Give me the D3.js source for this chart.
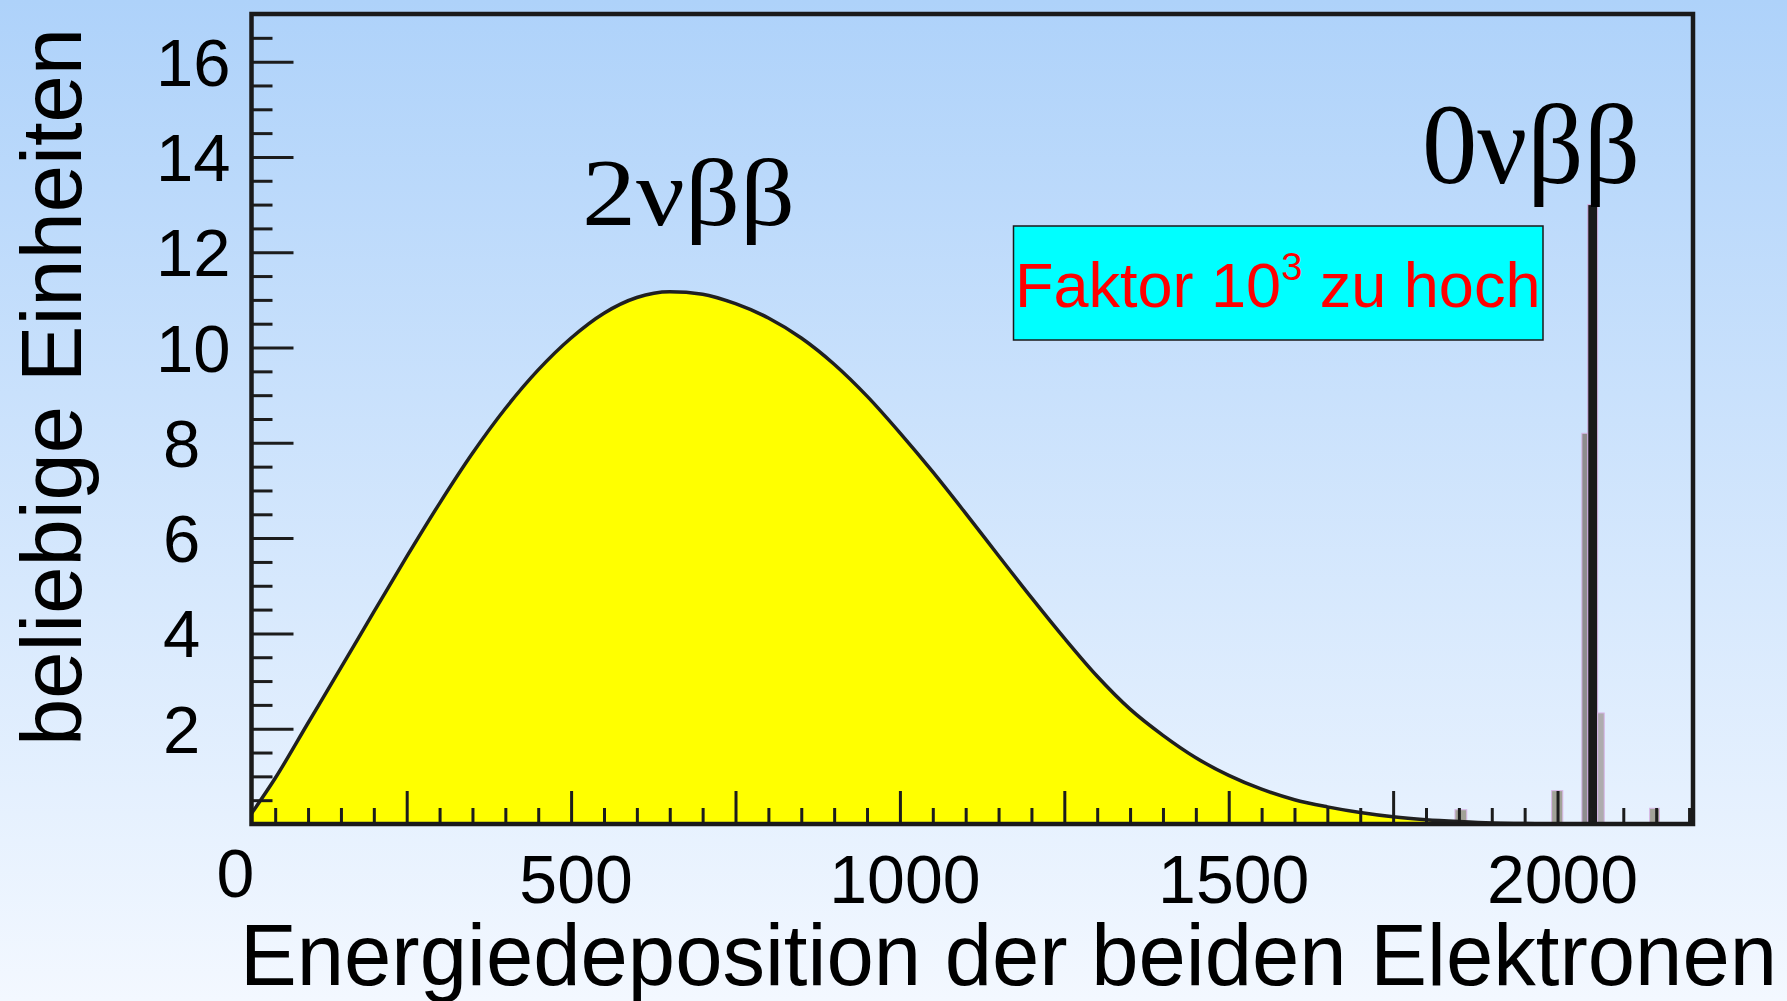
<!DOCTYPE html>
<html><head><meta charset="utf-8">
<script src="https://cdn.jsdelivr.net/npm/d3@7"></script>
<style>html,body{margin:0;padding:0;overflow:hidden;background:#fff;} svg{display:block;}</style>
</head><body>
<svg id="chart" width="1787" height="1001"></svg>
<script>
// ---- data ----
const energy = [14, 50, 100, 150, 200, 250, 300, 350, 400, 450, 500, 550, 600, 650, 700, 750, 800, 850, 900, 950, 1000, 1050, 1100, 1150, 1200, 1250, 1300, 1350, 1400, 1450, 1500, 1550, 1600, 1650, 1700, 1750, 1800, 1850, 1900, 1950, 2000, 2206];
const counts = [0.22, 0.96, 2.12, 3.28, 4.45, 5.61, 6.73, 7.78, 8.72, 9.53, 10.20, 10.72, 11.05, 11.17, 11.12, 10.92, 10.62, 10.20, 9.65, 8.98, 8.21, 7.39, 6.52, 5.63, 4.75, 3.90, 3.10, 2.41, 1.86, 1.39, 1.02, 0.73, 0.51, 0.36, 0.24, 0.15, 0.09, 0.05, 0.02, 0.01, 0.0, 0.0];
// 0vbb peak histogram bins
const peakLo = [2037, 2046, 2061];
const peakHi = [2046, 2061, 2071];
const peakVal = [8.2, 13.0, 2.33];
// small background bins in the tail
const noiseLo = [1844, 1991, 2140];
const noiseHi = [1862, 2008, 2155];
const noiseVal = [0.30, 0.70, 0.33];
// axis ticks / labels
const xTickLabels = [0, 500, 1000, 1500, 2000];
const yTickLabels = [2, 4, 6, 8, 10, 12, 14, 16];
const xMajorTicks = [250, 500, 750, 1000, 1250, 1500, 1750, 2000];
const yMajorTicks = [2, 4, 6, 8, 10, 12, 14, 16];
const xTitle = "Energiedeposition der beiden Elektronen";
const yTitle = "beliebige Einheiten";
const label2nu = "2νββ";
const label0nu = "0νββ";
const boxMain = "Faktor 10", boxSup = "3", boxRest = " zu hoch";

// ---- drawing ----
const svg = d3.select("#chart");
const W = 1787, H = 1001;
const defs = svg.append("defs");
const grad = defs.append("linearGradient").attr("id", "bg").attr("x1", 0).attr("y1", 0).attr("x2", 0).attr("y2", 1);
grad.append("stop").attr("offset", "0").attr("stop-color", "#aed2fa");
grad.append("stop").attr("offset", "1").attr("stop-color", "#f3f8ff");
svg.append("rect").attr("width", W).attr("height", H).attr("fill", "url(#bg)");

const x = d3.scaleLinear().domain([14, 2206]).range([251.5, 1693]);
const y = d3.scaleLinear().domain([0, 17]).range([824, 14]);

defs.append("clipPath").attr("id", "clip").append("rect")
  .attr("x", x.range()[0]).attr("y", y.range()[1])
  .attr("width", x.range()[1] - x.range()[0]).attr("height", y.range()[0] - y.range()[1]);

const pts = energy.map((e, i) => [e, counts[i]]);
const plot = svg.append("g").attr("clip-path", "url(#clip)");

plot.append("path").datum(pts)
  .attr("fill", "#ffff00")
  .attr("d", d3.area().x(d => x(d[0])).y0(y(0)).y1(d => y(d[1])).curve(d3.curveMonotoneX));

// noise bins
plot.selectAll("rect.noise").data(noiseVal).join("rect").attr("class", "noise")
  .attr("x", (d, i) => x(noiseLo[i])).attr("width", (d, i) => x(noiseHi[i]) - x(noiseLo[i]))
  .attr("y", d => y(d)).attr("height", d => y(0) - y(d))
  .attr("fill", "#a2a298").attr("stroke", "#d9b8e8").attr("stroke-width", 1);

// peak bins
const peakFill = ["#8e8c8e", "#1a1a1a", "#aeacae"];
plot.selectAll("rect.peak").data(peakVal).join("rect").attr("class", "peak")
  .attr("x", (d, i) => x(peakLo[i])).attr("width", (d, i) => x(peakHi[i]) - x(peakLo[i]))
  .attr("y", d => y(d)).attr("height", d => y(0) - y(d))
  .attr("fill", (d, i) => peakFill[i]).attr("stroke", "#d6b3e6").attr("stroke-width", 1);

// ticks
const tickCol = "#1c1c1c";
function styleAxis(g) {
  g.select(".domain").remove();
  g.selectAll(".tick line").attr("stroke", tickCol).attr("stroke-width", 3);
}
const xMinor = d3.range(50, 2201, 50).filter(v => v % 250 !== 0);
const yMinor = d3.range(0.5, 17, 0.5).filter(v => v % 2 !== 0);
svg.append("g").attr("transform", `translate(0,${y(0)})`)
  .call(d3.axisBottom(x).tickValues(xMinor).tickSize(-16).tickFormat("")).call(styleAxis);
svg.append("g").attr("transform", `translate(0,${y(0)})`)
  .call(d3.axisBottom(x).tickValues(xMajorTicks).tickSize(-33).tickFormat("")).call(styleAxis);
svg.append("g").attr("transform", `translate(${x.range()[0]},0)`)
  .call(d3.axisLeft(y).tickValues(yMinor).tickSize(-21).tickFormat("")).call(styleAxis);
svg.append("g").attr("transform", `translate(${x.range()[0]},0)`)
  .call(d3.axisLeft(y).tickValues(yMajorTicks).tickSize(-42).tickFormat("")).call(styleAxis);

// curve outline
plot.append("path").datum(pts)
  .attr("fill", "none").attr("stroke", "#202020").attr("stroke-width", 3.5)
  .attr("d", d3.line().x(d => x(d[0])).y(d => y(d[1])).curve(d3.curveMonotoneX));

// frame
svg.append("rect")
  .attr("x", x.range()[0]).attr("y", y.range()[1])
  .attr("width", x.range()[1] - x.range()[0]).attr("height", y.range()[0] - y.range()[1])
  .attr("fill", "none").attr("stroke", "#1a1a1a").attr("stroke-width", 4.5);

const sans = "'Liberation Sans', Arial, sans-serif";
const serif = "'Liberation Serif', 'Times New Roman', serif";

// x tick labels
svg.append("g").selectAll("text").data(xTickLabels).join("text")
  .attr("x", d => d === 0 ? x(d) - 7 : x(d) + 5)
  .attr("y", d => d === 0 ? 897 : 903)
  .attr("text-anchor", "middle").attr("font-family", sans).attr("font-size", 68)
  .attr("fill", "#000").text(d => d);

// y tick labels
svg.append("g").selectAll("text").data(yTickLabels).join("text")
  .attr("x", d => d >= 10 ? 156 : 163)
  .attr("y", d => y(d) + 24)
  .attr("text-anchor", "start").attr("font-family", sans).attr("font-size", 67)
  .attr("fill", "#000").text(d => d);

// axis titles
svg.append("text").attr("x", 240).attr("y", 985)
  .attr("font-family", sans).attr("font-size", 87).attr("fill", "#000")
  .attr("textLength", 1537).attr("lengthAdjust", "spacingAndGlyphs").text(xTitle);
svg.append("text").attr("transform", "translate(81,387) rotate(-90)")
  .attr("text-anchor", "middle")
  .attr("font-family", sans).attr("font-size", 86).attr("fill", "#000")
  .attr("textLength", 718).attr("lengthAdjust", "spacingAndGlyphs").text(yTitle);

// annotations
svg.append("text").attr("x", 582).attr("y", 225)
  .attr("font-family", serif).attr("font-size", 96).attr("fill", "#000")
  .attr("textLength", 213).attr("lengthAdjust", "spacingAndGlyphs").text(label2nu);
svg.append("text").attr("x", 1422).attr("y", 183)
  .attr("font-family", serif).attr("font-size", 114).attr("fill", "#000")
  .attr("textLength", 218).attr("lengthAdjust", "spacingAndGlyphs").text(label0nu);

// cyan box
svg.append("rect").attr("x", 1013.5).attr("y", 226).attr("width", 529.5).attr("height", 114)
  .attr("fill", "#00ffff").attr("stroke", "#1a1a1a").attr("stroke-width", 1.5);
const bt = svg.append("text").attr("x", 1015).attr("y", 307)
  .attr("font-family", sans).attr("font-size", 63).attr("fill", "#ff0000");
bt.append("tspan").text(boxMain);
bt.append("tspan").attr("font-size", 38).attr("dy", -27).text(boxSup);
bt.append("tspan").attr("dy", 27).text(boxRest);
</script>
</body></html>
